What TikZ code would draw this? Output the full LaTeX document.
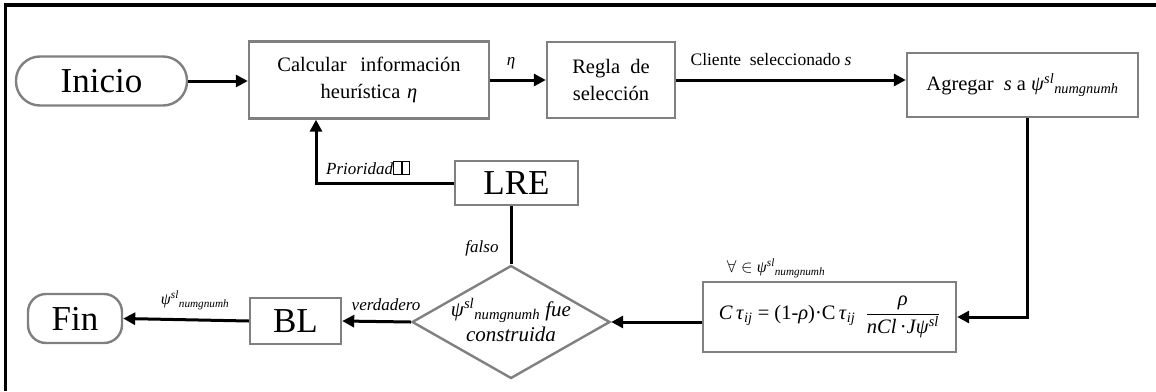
\documentclass[tikz,border=0pt]{standalone}
\usepackage{fontspec}
\setmainfont{Liberation Serif}
\usetikzlibrary{arrows.meta,shapes.geometric,calc}

\definecolor{boxgray}{HTML}{808080}

% psi^{sl}_{numgnumh}, written in sequence as in the text
\newcommand\psisl{\textit{ψ}\textsuperscript{\textit{sl}}\textsubscript{\textit{numgnumh}}}
% an empty glyph box
\newcommand\emptyglyph{{\setlength\fboxsep{0pt}\setlength\fboxrule{0.6pt}\framebox{\rule{0pt}{0.72em}\hspace{0.42em}}}}

\begin{document}
\begin{tikzpicture}[x=1pt,y=-1pt,
  box/.style={draw=boxgray, line width=2.4pt, fill=white, inner sep=2pt, align=center,
              font=\fontsize{20.5}{27}\selectfont},
  bigbox/.style={box, font=\fontsize{35}{40}\selectfont},
  pill/.style={bigbox, rounded corners=#1},
  dia/.style={draw=boxgray, line width=2.4pt, diamond, inner sep=0pt},
  conn/.style={line width=3pt},
  arr/.style={conn, -{Triangle[length=12pt,width=12pt]}},
  lbl/.style={inner sep=0pt, font=\fontsize{17}{20}\selectfont\itshape},
]
\useasboundingbox (0,0) rectangle (1156,391);

% frame (top and left sides)
\draw[line width=3.2pt] (5.5,391) -- (5.5,5) -- (1156,5);

% nodes
\node[pill=24pt, minimum width=171, minimum height=49] (inicio) at (101.5,81) {Inicio};
\node[box, minimum width=240, minimum height=77, text width=230] (calc) at (369,80)
  {Calcular\ \ información\\heurística \textit{η}};
\node[box, minimum width=128, minimum height=76] (regla) at (611,80)
  {Regla\ \ de\\selección};
\node[box, minimum width=231, minimum height=64] (agregar) at (1022.5,85)
  {Agregar\ \ \textit{s} a \psisl};
\node[box, minimum width=253, minimum height=70] (formula) at (829.5,317)
  {\textit{C}\,\textit{τ}\textsubscript{\textit{ij}} = (1-\textit{ρ})·C\,\textit{τ}\textsubscript{\textit{ij}}\ \ %
   $\displaystyle\frac{\mbox{\textit{ρ}}}{\mbox{\textit{nCl}\,·\textit{Jψ}\textsuperscript{\textit{sl}}}}$};
\node[dia, minimum width=198, minimum height=113] (dec) at (511,322) {};
\node[align=center, inner sep=0pt, font=\fontsize{21}{25}\selectfont\itshape] at (511,320)
  {\psisl\ fue\\construida};
\node[bigbox, minimum width=123, minimum height=44] (lre) at (516.5,183) {LRE};
\node[bigbox, minimum width=91, minimum height=46] (bl) at (295.5,321) {BL};
\node[pill=18pt, minimum width=94, minimum height=49] (fin) at (75,318.5) {Fin};

% connectors
\draw[arr] (inicio.east) -- (calc.west |- inicio.east);
\draw[arr] (calc.east) -- (regla.west);
\draw[arr] (regla.east) -- (agregar.west |- regla.east);
\draw[arr] ([xshift=4.5pt]agregar.south) |- (formula.east);
\draw[arr] (formula.west |- dec.east) -- (dec.east);
\draw[conn] (dec.north) -- (dec.north |- lre.south);
\draw[arr] (lre.west) -| ([xshift=-53pt]calc.south);
\draw[arr] (dec.west) -- (bl.east);
\draw[arr] (bl.west) -- (fin.east);

% connector labels
\node[lbl] (leta) at (511,63) {η};
\node[lbl, font=\fontsize{17.5}{20}\selectfont] (lcli) at (771,60) {Cliente\ \ seleccionado \textit{s}};
\node[lbl, font=\fontsize{16}{20}\selectfont] (lall) at (776,268) {$\forall\in$ \psisl};
\node[lbl] (lfal) at (482,248) {falso};
\node[lbl] (lpri) at (368,168) {Prioridad\emptyglyph\emptyglyph};
\node[lbl] (lver) at (386,305) {verdadero};
\node[lbl, font=\fontsize{16}{20}\selectfont] (lpsi) at (195,300) {\psisl};
\end{tikzpicture}
\end{document}
